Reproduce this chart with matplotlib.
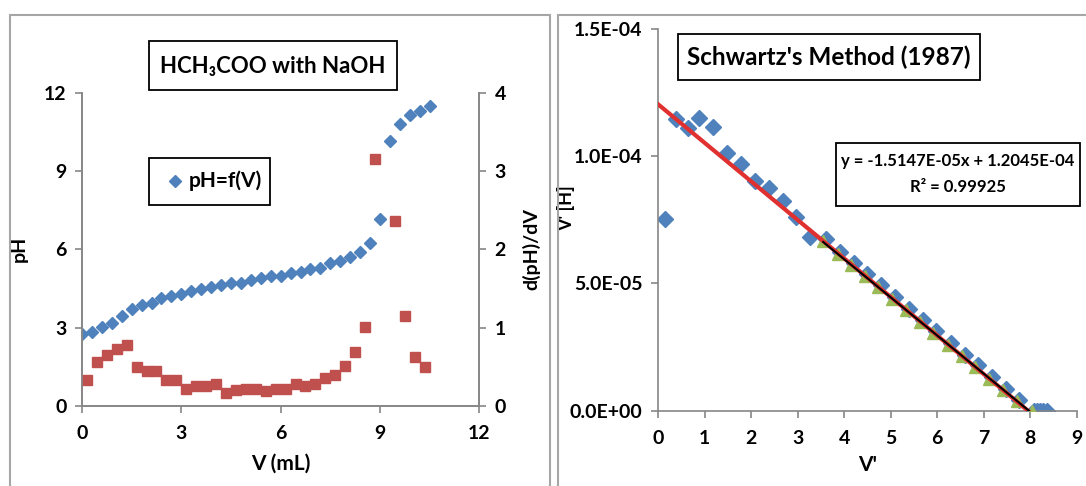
import numpy as np
import matplotlib
matplotlib.use("Agg")
import matplotlib.pyplot as plt
from matplotlib.patches import Rectangle

plt.rcParams['font.family'] = ['Lato', 'DejaVu Sans']
plt.rcParams['font.weight'] = 'bold'
plt.rcParams['axes.labelweight'] = 'bold'

# --- titration data (left chart) ---
vol = [0.0, 0.3, 0.6, 0.9, 1.2, 1.5, 1.8, 2.1, 2.4, 2.7, 3.0, 3.3, 3.6, 3.9,
       4.2, 4.5, 4.8, 5.1, 5.4, 5.7, 6.0, 6.3, 6.6, 6.9, 7.2, 7.5, 7.8, 8.1,
       8.4, 8.7, 9.0, 9.3, 9.6, 9.9, 10.2, 10.5]
ph = [2.76, 2.83, 3.03, 3.18, 3.45, 3.72, 3.88, 3.96, 4.15, 4.21, 4.30, 4.39,
      4.47, 4.56, 4.63, 4.72, 4.72, 4.81, 4.89, 4.99, 4.98, 5.08, 5.14, 5.23,
      5.30, 5.48, 5.55, 5.72, 5.89, 6.23, 7.15, 10.14, 10.81, 11.16, 11.31, 11.49]

vol_mid = [0.15, 0.45, 0.75, 1.05, 1.35, 1.65, 1.95, 2.25, 2.55, 2.85, 3.15,
           3.45, 3.75, 4.05, 4.35, 4.65, 4.95, 5.25, 5.55, 5.85, 6.15, 6.45,
           6.75, 7.05, 7.35, 7.65, 7.95, 8.25, 8.55, 8.85, 9.45, 9.75, 10.05, 10.35]
dph_dv = [0.33, 0.56, 0.65, 0.73, 0.78, 0.50, 0.45, 0.45, 0.33, 0.33, 0.22,
          0.26, 0.26, 0.28, 0.16, 0.20, 0.22, 0.22, 0.19, 0.22, 0.22, 0.28,
          0.26, 0.28, 0.36, 0.40, 0.51, 0.69, 1.01, 3.15, 2.36, 1.15, 0.62, 0.50]

# --- Schwartz plot data (right chart) ---
vp_all = [0.14, 0.38, 0.65, 0.88, 1.18, 1.48, 1.79, 2.08, 2.39, 2.68, 2.96, 3.26,
          3.61, 3.92, 4.21, 4.50, 4.79, 5.10, 5.40, 5.70, 5.98, 6.29, 6.59, 6.87,
          7.18, 7.48, 7.77, 8.08, 8.14, 8.21, 8.28, 8.36]
vh_all = [7.53e-5, 11.45e-5, 11.10e-5, 11.51e-5, 11.15e-5, 10.14e-5, 9.69e-5,
          9.02e-5, 8.76e-5, 8.25e-5, 7.60e-5, 6.83e-5,
          6.73e-5, 6.25e-5, 5.81e-5, 5.36e-5, 4.93e-5, 4.46e-5, 4.01e-5, 3.55e-5,
          3.13e-5, 2.65e-5, 2.20e-5, 1.78e-5, 1.31e-5, 0.86e-5, 0.42e-5, 0.0,
          0.0, 0.0, 0.0, 0.0]
vp_fit = [3.55, 3.86, 4.15, 4.44, 4.73, 5.04, 5.34, 5.64, 5.92, 6.23, 6.53,
          6.81, 7.12, 7.42, 7.71, 8.04]
vh_fit = [6.66e-5, 6.17e-5, 5.73e-5, 5.29e-5, 4.87e-5, 4.40e-5, 3.95e-5, 3.49e-5,
          3.07e-5, 2.59e-5, 2.14e-5, 1.72e-5, 1.26e-5, 0.81e-5, 0.37e-5, 0.0]
slope = -1.5147e-05
intercept = 1.2045e-04

x_ticks_l = [0, 3, 6, 9, 12]
y_ticks_l = [0, 3, 6, 9, 12]
y2_ticks_l = [0, 1, 2, 3, 4]
x_ticks_r = [0, 1, 2, 3, 4, 5, 6, 7, 8, 9]
y_ticks_r = [0.0, 5.0e-5, 1.0e-4, 1.5e-4]
y_labels_r = ['0.0E+00', '5.0E-05', '1.0E-04', '1.5E-04']

blue = '#4F81BD'
red = '#C0504D'
green = '#9BBB59'
grey = '#868686'

W, H = 1086, 486
fig = plt.figure(figsize=(W / 100, H / 100), dpi=100)


def fx(px):
    return px / W


def fy(py):
    return 1 - py / H


# outer chart frames
fig.patches.append(Rectangle((fx(10), fy(500)), fx(540), fy(15) - fy(500),
                             transform=fig.transFigure, fill=False,
                             edgecolor='#A6A6A6', lw=1.5))
fig.patches.append(Rectangle((fx(558), fy(500)), fx(560), fy(15) - fy(500),
                             transform=fig.transFigure, fill=False,
                             edgecolor='#A6A6A6', lw=1.5))


def style_axis(ax):
    for side in ['left', 'bottom', 'right', 'top']:
        ax.spines[side].set_color(grey)
        ax.spines[side].set_linewidth(1.2)
    ax.tick_params(colors=grey, labelcolor='black', labelsize=14,
                   length=5, width=1.2, direction='out', pad=6)
    ax.tick_params(axis='x', pad=9)


# ---------- left chart ----------
axl = fig.add_axes([fx(82), fy(406), fx(479.3 - 82), fy(92.7) - fy(406)])
axl.plot(vol, ph, linestyle='none', marker='D', markersize=6.5,
         color=blue, label='pH=f(V)')
axl.set_xlim(0, 12)
axl.set_ylim(0, 12)
axl.set_xticks(x_ticks_l)
axl.set_yticks(y_ticks_l)
axl.spines['top'].set_visible(False)
style_axis(axl)
axl.set_xlabel('V (mL)', fontsize=15, labelpad=8, fontweight='bold')
axl.set_ylabel('pH', fontsize=14, labelpad=12, fontweight='bold')

axr2 = axl.twinx()
axr2.plot(vol_mid, dph_dv, linestyle='none', marker='s', markersize=6.5,
          color=red)
axr2.set_ylim(0, 4)
axr2.set_yticks(y2_ticks_l)
axr2.spines['top'].set_visible(False)
style_axis(axr2)
axr2.set_ylabel('d(pH)/dV', fontsize=14, labelpad=12, fontweight='bold')
for a in (axl, axr2):
    for lab in a.get_xticklabels() + a.get_yticklabels():
        lab.set_fontweight('bold')

# title box
fig.patches.append(Rectangle((fx(149), fy(90)), fx(248), fy(41) - fy(90),
                             transform=fig.transFigure, facecolor='white',
                             edgecolor='black', lw=1.3))
fig.text(fx(273), fy(66), 'HCH₃COO with NaOH', ha='center', va='center',
         fontsize=16, fontweight='bold', family=['Lato', 'DejaVu Sans'])

# legend box
fig.patches.append(Rectangle((fx(149), fy(205)), fx(121), fy(158) - fy(205),
                             transform=fig.transFigure, facecolor='white',
                             edgecolor='black', lw=1.3))
fig.lines.append(plt.Line2D([fx(175)], [fy(181)], transform=fig.transFigure,
                            marker='D', markersize=6.5, color=blue,
                            linestyle='none'))
fig.text(fx(189), fy(181), 'pH=f(V)', ha='left', va='center',
         fontsize=15, fontweight='bold')

# ---------- right chart ----------
axs = fig.add_axes([fx(658), fy(410.7), fx(1076.7 - 658), fy(29) - fy(410.7)])
axs.plot(vp_all, vh_all, linestyle='none', marker='D', markersize=8,
         color=blue, zorder=2)
axs.plot(vp_fit, vh_fit, linestyle='none', marker='^', markersize=8.5,
         color=green, zorder=3)
x_red = np.array([0, -intercept / slope])
axs.plot(x_red, slope * x_red + intercept, color='#E03030', lw=3, zorder=4)
b1, b0 = np.polyfit(vp_fit, vh_fit, 1)
x_blk = np.array([vp_fit[0], -b0 / b1])
axs.plot(x_blk, b1 * x_blk + b0, color='black', lw=1.5, zorder=5)
axs.set_xlim(0, 9)
axs.set_ylim(0, 1.5e-4)
axs.set_xticks(x_ticks_r)
axs.set_yticks(y_ticks_r)
axs.set_yticklabels(y_labels_r)
axs.spines['top'].set_visible(False)
axs.spines['right'].set_visible(False)
style_axis(axs)
for lab in axs.get_xticklabels() + axs.get_yticklabels():
    lab.set_fontweight('bold')
axs.set_xlabel("V'", fontsize=15, labelpad=6, fontweight='bold')
axs.set_ylabel("V' [H]", fontsize=13, fontweight='bold')
axs.yaxis.set_label_coords(-0.198, 0.531)

fig.patches.append(Rectangle((fx(678), fy(80)), fx(302), fy(34) - fy(80),
                             transform=fig.transFigure, facecolor='white',
                             edgecolor='black', lw=1.3))
fig.text(fx(829), fy(57), "Schwartz's Method (1987)", ha='center',
         va='center', fontsize=17.5, fontweight='bold')

fig.patches.append(Rectangle((fx(836), fy(206)), fx(244), fy(143) - fy(206),
                             transform=fig.transFigure, facecolor='white',
                             edgecolor='black', lw=1.3))
fig.text(fx(958), fy(161), 'y = -1.5147E-05x + 1.2045E-04', ha='center',
         va='center', fontsize=12, fontweight='bold')
fig.text(fx(958), fy(187), 'R² = 0.99925', ha='center',
         va='center', fontsize=12, fontweight='bold')

fig.savefig('out.png', dpi=100)
